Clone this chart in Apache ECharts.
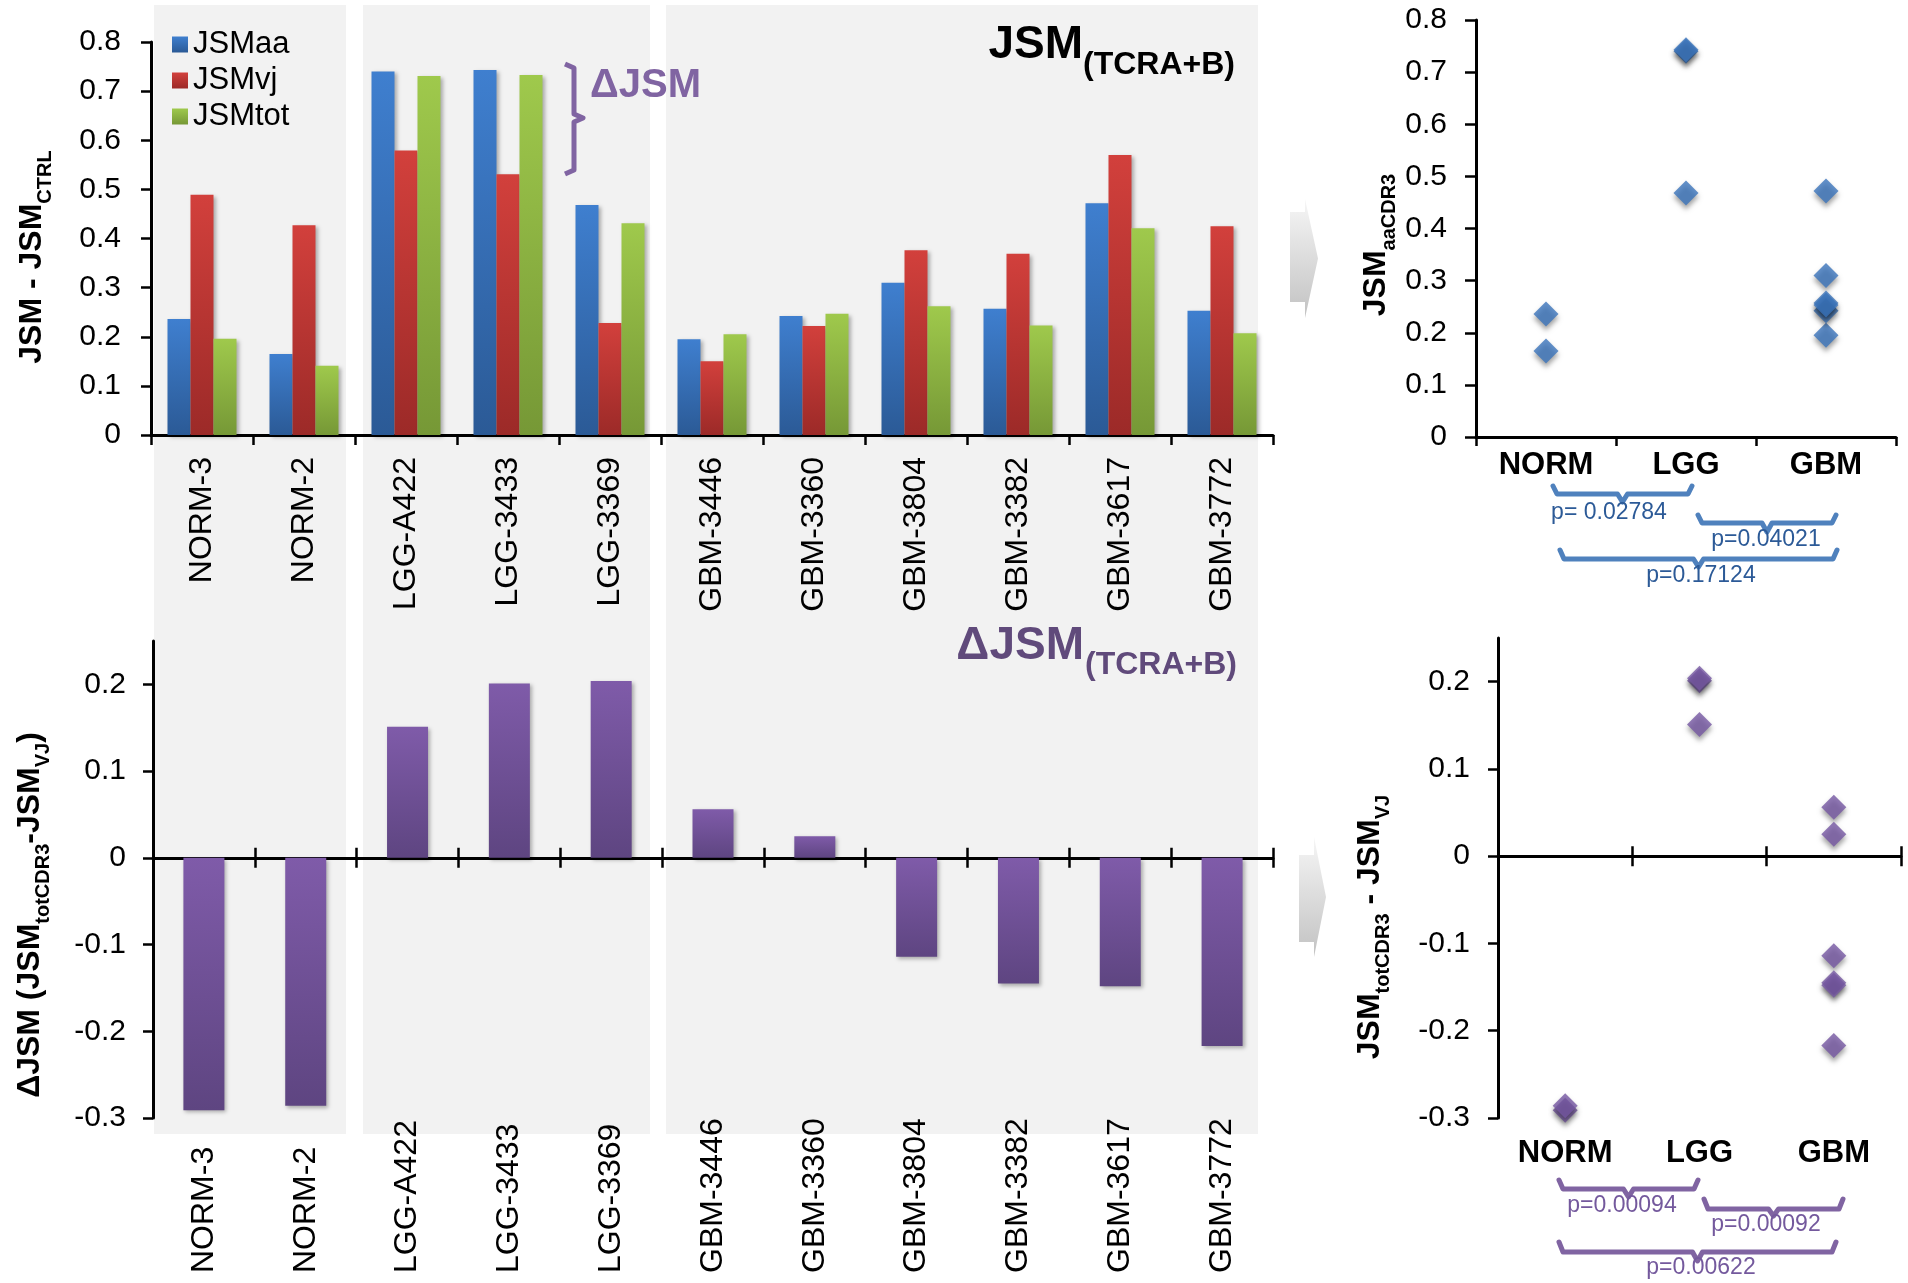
<!DOCTYPE html>
<html>
<head>
<meta charset="utf-8">
<script src="https://cdn.jsdelivr.net/npm/echarts@6/dist/echarts.min.js"></script>
<style>
  html, body { margin: 0; padding: 0; background: #fff; }
  #main { width: 1908px; height: 1283px; }
</style>
</head>
<body>
<div id="main"></div>
<script type="text/javascript">
// data
var samples = ['NORM-3', 'NORM-2', 'LGG-A422', 'LGG-3433', 'LGG-3369',
  'GBM-3446', 'GBM-3360', 'GBM-3804', 'GBM-3382', 'GBM-3617', 'GBM-3772'];
var sampleGroup = ['NORM', 'NORM', 'LGG', 'LGG', 'LGG', 'GBM', 'GBM', 'GBM', 'GBM', 'GBM', 'GBM'];
var groups = ['NORM', 'LGG', 'GBM'];
var jsmAa = [0.236, 0.165, 0.740, 0.743, 0.468, 0.195, 0.242, 0.310, 0.257, 0.472, 0.253];
var jsmVj = [0.489, 0.427, 0.579, 0.531, 0.228, 0.150, 0.222, 0.376, 0.369, 0.570, 0.425];
var jsmTot = [0.196, 0.141, 0.731, 0.733, 0.431, 0.205, 0.247, 0.262, 0.223, 0.421, 0.207];
var deltaJsm = [-0.291, -0.286, 0.151, 0.201, 0.204, 0.056, 0.025, -0.114, -0.145, -0.148, -0.217];
var deltaTicks = [-0.3, -0.2, -0.1, 0, 0.1, 0.2];
var pAa = ['p= 0.02784', 'p=0.04021', 'p=0.17124'];
var pDelta = ['p=0.00094', 'p=0.00092', 'p=0.00622'];

var FONT = "'Liberation Sans', Arial, sans-serif";
var myChart = echarts.init(document.getElementById('main'));

function grad(top, bottom) {
  return new echarts.graphic.LinearGradient(0, 0, 0, 1, [
    {offset: 0, color: top}, {offset: 1, color: bottom}
  ]);
}
var barShadow = {shadowBlur: 4, shadowColor: 'rgba(0,0,0,0.3)', shadowOffsetX: 2, shadowOffsetY: 2};

// scatter points: [group, value]
function groupPoints(values) {
  return values.map(function (v, i) { return [sampleGroup[i], v]; });
}

// curly bracket under the scatter plots
function brace(x1, x2, y0, y1, y2, color) {
  var xc = (x1 + x2) / 2;
  return {
    type: 'polyline', z: 10,
    shape: {points: [[x1, y0], [x1 + 4, y1], [xc - 5, y1], [xc, y2], [xc + 5, y1], [x2 - 4, y1], [x2, y0]]},
    style: {stroke: color, lineWidth: 5, fill: null, lineJoin: 'round', lineCap: 'round'}
  };
}
function ptext(x, y, txt, color) {
  return {type: 'text', x: x, y: y, z: 11,
    style: {text: txt, fill: color, font: '23px ' + FONT, align: 'center', verticalAlign: 'middle'}};
}
var nameRich = {
  m: {fontSize: 32, fontWeight: 'bold', fontFamily: FONT, lineHeight: 36},
  s: {fontSize: 20, fontWeight: 'bold', fontFamily: FONT, lineHeight: 20, padding: [26, 0, 0, 0]}
};
function vname(x, y, txt) {
  return {type: 'text', x: x, y: y, rotation: Math.PI / 2, z: 10,
    style: {text: txt, rich: nameRich, fill: '#000', align: 'center', verticalAlign: 'middle'}};
}
function arrow(x0, xm, x1, yt, yb, bt, bb) {
  return {type: 'polygon', z: -5,
    shape: {points: [[x0, bt], [xm, bt], [xm, yt], [x1, (yt + yb) / 2], [xm, yb], [xm, bb], [x0, bb]]},
    style: {fill: grad('#f6f6f6', '#c2c2c2')}};
}

var lineBlack = {color: '#000', width: 3};
var tickLine = {color: '#000', width: 2.5};
var valLabel = {color: '#000', fontSize: 30, fontFamily: FONT};
var sampleLabel = {color: '#000', fontSize: 32, fontFamily: FONT};

var option = {
  backgroundColor: '#fff',
  animation: false,
  legend: {
    orient: 'vertical', left: 167, top: 24,
    itemWidth: 16, itemHeight: 16, itemGap: 5,
    icon: 'rect',
    textStyle: {fontSize: 31, fontFamily: FONT, color: '#000', lineHeight: 29},
    data: ['JSMaa', 'JSMvj', 'JSMtot']
  },
  grid: [
    {left: 151, right: 635, top: 42, bottom: 848},
    {left: 153, right: 635, top: 641, bottom: 165},
    {left: 1476, right: 12, top: 20, bottom: 846},
    {left: 1498, right: 7, top: 638, bottom: 165}
  ],
  xAxis: [
    {gridIndex: 0, type: 'category', data: samples,
      axisLine: {show: true, lineStyle: lineBlack},
      axisTick: {show: true, length: 10, lineStyle: tickLine},
      axisLabel: Object.assign({rotate: 90, margin: 22}, sampleLabel)},
    {gridIndex: 1, type: 'category', data: samples, position: 'bottom',
      axisLine: {show: true, onZero: true, onZeroAxisIndex: 1, lineStyle: lineBlack},
      axisTick: {show: true, length: 10, lineStyle: tickLine}, axisLabel: {show: false}},
    {gridIndex: 1, type: 'category', data: samples, position: 'bottom',
      axisLine: {show: false, onZero: true, onZeroAxisIndex: 1},
      axisTick: {show: true, inside: true, length: 10, lineStyle: tickLine}, axisLabel: {show: false}},
    {gridIndex: 1, type: 'category', data: samples, position: 'bottom',
      axisLine: {show: false, onZero: false}, axisTick: {show: false},
      axisLabel: Object.assign({rotate: 90, align: 'left', margin: 155}, sampleLabel)},
    {gridIndex: 2, type: 'category', data: groups,
      axisLine: {show: true, lineStyle: lineBlack},
      axisTick: {show: true, length: 9, lineStyle: tickLine},
      axisLabel: {margin: 13, color: '#000', fontSize: 31, fontWeight: 'bold', fontFamily: FONT}},
    {gridIndex: 3, type: 'category', data: groups, position: 'bottom',
      axisLine: {show: true, onZero: true, onZeroAxisIndex: 3, lineStyle: lineBlack},
      axisTick: {show: true, length: 10, lineStyle: tickLine}, axisLabel: {show: false}},
    {gridIndex: 3, type: 'category', data: groups, position: 'bottom',
      axisLine: {show: false, onZero: true, onZeroAxisIndex: 3},
      axisTick: {show: true, inside: true, length: 10, lineStyle: tickLine}, axisLabel: {show: false}},
    {gridIndex: 3, type: 'category', data: groups, position: 'bottom',
      axisLine: {show: false, onZero: false}, axisTick: {show: false},
      axisLabel: {margin: 20, color: '#000', fontSize: 31, fontWeight: 'bold', fontFamily: FONT}}
  ],
  yAxis: [
    {gridIndex: 0, type: 'value', min: 0, max: 0.8, interval: 0.1,
      axisLine: {show: true, lineStyle: lineBlack},
      axisTick: {show: true, length: 10, lineStyle: tickLine},
      axisLabel: Object.assign({margin: 30}, valLabel), splitLine: {show: false}},
    {gridIndex: 1, type: 'value', min: -0.3, max: 0.25, interval: 0.1,
      axisLine: {show: true, lineStyle: lineBlack},
      axisTick: {show: true, length: 10, lineStyle: tickLine, customValues: deltaTicks},
      axisLabel: Object.assign({margin: 27, customValues: deltaTicks}, valLabel), splitLine: {show: false}},
    {gridIndex: 2, type: 'value', min: 0, max: 0.8, interval: 0.1,
      axisLine: {show: true, lineStyle: lineBlack},
      axisTick: {show: true, length: 11, lineStyle: tickLine},
      axisLabel: Object.assign({margin: 29}, valLabel), splitLine: {show: false}},
    {gridIndex: 3, type: 'value', min: -0.3, max: 0.25, interval: 0.1,
      axisLine: {show: true, lineStyle: lineBlack},
      axisTick: {show: true, length: 10, lineStyle: tickLine, customValues: deltaTicks},
      axisLabel: Object.assign({margin: 28, customValues: deltaTicks}, valLabel), splitLine: {show: false}}
  ],
  series: [
    {name: 'JSMaa', type: 'bar', xAxisIndex: 0, yAxisIndex: 0, barWidth: 23, barGap: '0%',
      itemStyle: Object.assign({color: grad('#3f7fcf', '#2b5a96')}, barShadow), data: jsmAa},
    {name: 'JSMvj', type: 'bar', xAxisIndex: 0, yAxisIndex: 0, barWidth: 23, barGap: '0%',
      itemStyle: Object.assign({color: grad('#d2403c', '#9c2a28')}, barShadow), data: jsmVj},
    {name: 'JSMtot', type: 'bar', xAxisIndex: 0, yAxisIndex: 0, barWidth: 23, barGap: '0%',
      itemStyle: Object.assign({color: grad('#9fc94c', '#769836')}, barShadow), data: jsmTot},
    {name: 'ΔJSM', type: 'bar', xAxisIndex: 1, yAxisIndex: 1, barWidth: 41,
      itemStyle: Object.assign({color: grad('#7f5ba9', '#5e4581')}, barShadow), data: deltaJsm},
    {name: 'JSMaaCDR3', type: 'scatter', xAxisIndex: 4, yAxisIndex: 2,
      symbol: 'diamond', symbolSize: 25,
      itemStyle: {color: '#3b74bb', shadowBlur: 5, shadowColor: 'rgba(0,0,0,0.45)', shadowOffsetY: 4},
      data: groupPoints(jsmAa)},
    {name: 'ΔJSMscatter', type: 'scatter', xAxisIndex: 5, yAxisIndex: 3,
      symbol: 'diamond', symbolSize: 25,
      itemStyle: {color: '#7657a3', shadowBlur: 5, shadowColor: 'rgba(0,0,0,0.45)', shadowOffsetY: 4},
      data: groupPoints(deltaJsm)}
  ],
  graphic: {elements: [
    // grey panels behind the sample groups
    {type: 'rect', z: -10, shape: {x: 154, y: 5, width: 192, height: 1129}, style: {fill: '#f2f2f2'}},
    {type: 'rect', z: -10, shape: {x: 363, y: 5, width: 287, height: 1129}, style: {fill: '#f2f2f2'}},
    {type: 'rect', z: -10, shape: {x: 666, y: 5, width: 592, height: 1129}, style: {fill: '#f2f2f2'}},
    arrow(1290, 1305, 1318, 199, 318, 212, 302),
    arrow(1299, 1314, 1326, 837, 957, 855, 942),
    // titles
    {type: 'text', x: 1083, y: 45, z: 10, style: {text: 'JSM', fill: '#000', font: 'bold 46px ' + FONT, align: 'right', verticalAlign: 'middle'}},
    {type: 'text', x: 1083, y: 65, z: 10, style: {text: '(TCRA+B)', fill: '#000', font: 'bold 32px ' + FONT, align: 'left', verticalAlign: 'middle'}},
    {type: 'text', x: 1084, y: 646, z: 10, style: {text: 'ΔJSM', fill: '#604a7b', font: 'bold 46px ' + FONT, align: 'right', verticalAlign: 'middle'}},
    {type: 'text', x: 1085, y: 665, z: 10, style: {text: '(TCRA+B)', fill: '#604a7b', font: 'bold 32px ' + FONT, align: 'left', verticalAlign: 'middle'}},
    // ΔJSM bracket in the top chart
    {type: 'polyline', z: 10, shape: {points: [[565, 64], [574, 68], [574, 114], [583, 118], [574, 122], [574, 170], [565, 174]]},
      style: {stroke: '#8064a2', lineWidth: 5, fill: null, lineJoin: 'round'}},
    {type: 'text', x: 590, y: 86, z: 10, style: {text: 'ΔJSM', fill: '#8064a2', font: 'bold 40px ' + FONT, align: 'left', verticalAlign: 'middle'}},
    // axis titles
    vname(32, 257, '{m|JSM - JSM}{s|CTRL}'),
    vname(30, 915, '{m|ΔJSM (JSM}{s|totCDR3}{m|-JSM}{s|VJ}{m|)}'),
    vname(1376, 245, '{m|JSM}{s|aaCDR3}'),
    vname(1370, 927, '{m|JSM}{s|totCDR3}{m| - JSM}{s|VJ}'),
    // p-values
    brace(1553, 1692, 486, 494, 502, '#4f81bd'), ptext(1609, 513, pAa[0], '#2c5a97'),
    brace(1698, 1836, 515, 523, 532, '#4f81bd'), ptext(1766, 540, pAa[1], '#2c5a97'),
    brace(1560, 1837, 550, 559, 567, '#4f81bd'), ptext(1701, 576, pAa[2], '#2c5a97'),
    brace(1559, 1698, 1180, 1189, 1197, '#8064a2'), ptext(1622, 1206, pDelta[0], '#74599d'),
    brace(1704, 1843, 1199, 1209, 1216, '#8064a2'), ptext(1766, 1225, pDelta[1], '#74599d'),
    brace(1559, 1836, 1242, 1252, 1261, '#8064a2'), ptext(1701, 1268, pDelta[2], '#74599d')
  ]}
};

myChart.setOption(option);
</script>
</body>
</html>
